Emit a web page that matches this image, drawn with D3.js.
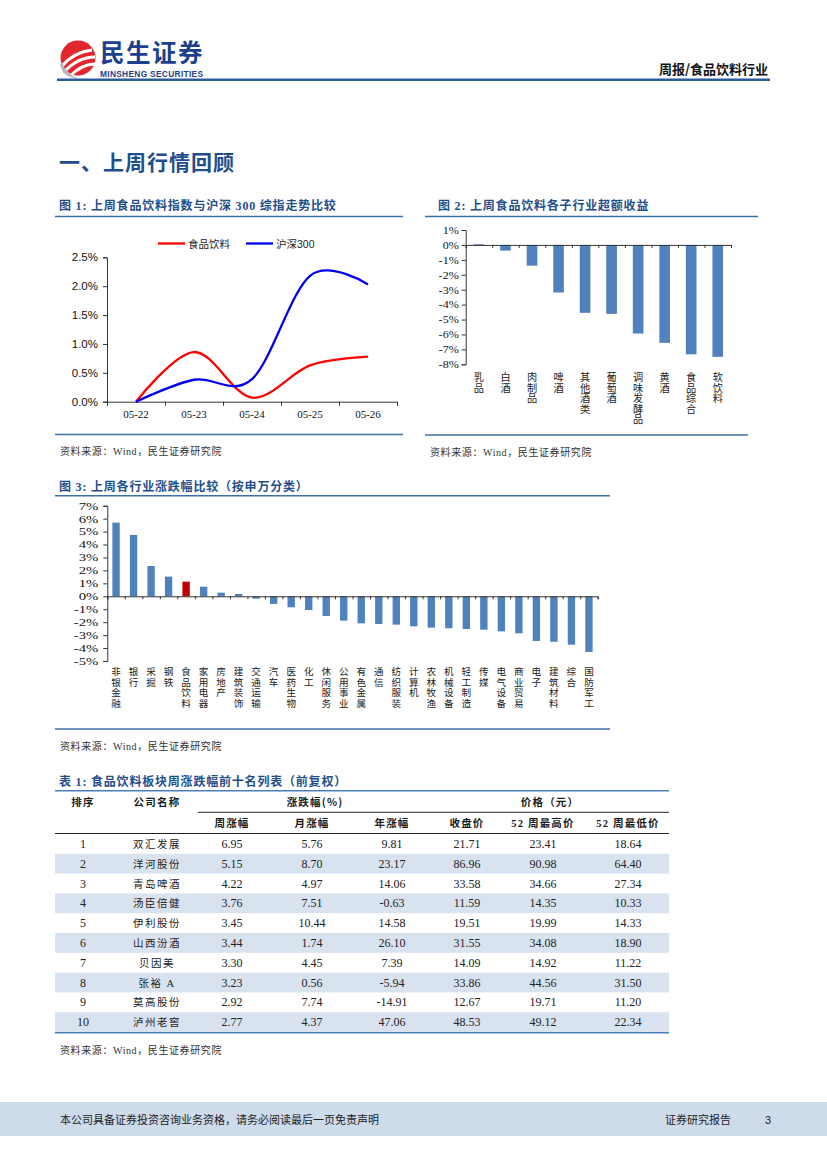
<!DOCTYPE html>
<html>
<head>
<meta charset="utf-8">
<script src="https://cdn.jsdelivr.net/npm/d3@7/dist/d3.min.js"></script>
<style>
body { margin: 0; background: #fff; }
svg { display: block; }
</style>
</head>
<body>
<svg id="page"></svg>
<script>
// ---- data ----
const fig1Dates = ['05-22', '05-23', '05-24', '05-25', '05-26'];
const fig1Food = [0, 0.86, 0.07, 0.63, 0.78];
const fig1Hs300 = [0, 0.38, 0.39, 2.18, 2.03];
const fig1Ticks = [0, 0.5, 1.0, 1.5, 2.0, 2.5];
const fig1Series = ['食品饮料', '沪深300'];

const fig2Cats = ['乳品', '白酒', '肉制品', '啤酒', '其他酒类', '葡萄酒', '调味发酵品', '黄酒', '食品综合', '软饮料'];
const fig2Vals = [0.05, -0.38, -1.39, -3.19, -4.55, -4.62, -5.94, -6.56, -7.33, -7.5];
const fig2Ticks = [1, 0, -1, -2, -3, -4, -5, -6, -7, -8];

const fig3Cats = ['非银金融', '银行', '采掘', '钢铁', '食品饮料', '家用电器', '房地产', '建筑装饰', '交通运输', '汽车',
  '医药生物', '化工', '休闲服务', '公用事业', '有色金属', '通信', '纺织服装', '计算机', '农林牧渔', '机械设备',
  '轻工制造', '传媒', '电气设备', '商业贸易', '电子', '建筑材料', '综合', '国防军工'];
const fig3Vals = [5.69, 4.74, 2.34, 1.52, 1.13, 0.74, 0.28, 0.18, -0.18, -0.59,
  -0.85, -1.06, -1.52, -1.88, -2.09, -2.14, -2.19, -2.32, -2.42, -2.47,
  -2.53, -2.58, -2.71, -2.86, -3.45, -3.51, -3.74, -4.30];
const fig3Ticks = [7, 6, 5, 4, 3, 2, 1, 0, -1, -2, -3, -4, -5];
const fig3Highlight = '食品饮料';

const tableRank = [1, 2, 3, 4, 5, 6, 7, 8, 9, 10];
const tableName = ['双汇发展', '洋河股份', '青岛啤酒', '汤臣倍健', '伊利股份', '山西汾酒', '贝因美', '张裕 A', '莫高股份', '泸州老窖'];
const tableWeek = ['6.95', '5.15', '4.22', '3.76', '3.45', '3.44', '3.30', '3.23', '2.92', '2.77'];
const tableMonth = ['5.76', '8.70', '4.97', '7.51', '10.44', '1.74', '4.45', '0.56', '7.74', '4.37'];
const tableYear = ['9.81', '23.17', '14.06', '-0.63', '14.58', '26.10', '7.39', '-5.94', '-14.91', '47.06'];
const tableClose = ['21.71', '86.96', '33.58', '11.59', '19.51', '31.55', '14.09', '33.86', '12.67', '48.53'];
const tableHigh = ['23.41', '90.98', '34.66', '14.35', '19.99', '34.08', '14.92', '44.56', '19.71', '49.12'];
const tableLow = ['18.64', '64.40', '27.34', '10.33', '14.33', '18.90', '11.22', '31.50', '11.20', '22.34'];

// ---- page ----
const width = 827;
const height = 1169;
const navy = '#1f4e8c';
const ruleBlue = '#3d6fa8';
const barBlue = '#4f81bd';
const cjk = "'Noto Sans CJK SC', 'Noto Sans', sans-serif";
const serif = "'Liberation Serif', 'Noto Sans CJK SC', serif";
const sans = "'Liberation Sans', 'Noto Sans CJK SC', sans-serif";

const svg = d3.select('#page').attr('width', width).attr('height', height);

const txt = (x, y, s, size, opts = {}) => {
    return svg.append('text')
        .attr('x', x)
        .attr('y', y)
        .attr('font-size', size)
        .attr('font-family', opts.family || cjk)
        .attr('font-weight', opts.weight || 'normal')
        .attr('fill', opts.fill || '#222')
        .attr('text-anchor', opts.anchor || 'start')
        .attr('letter-spacing', opts.spacing || 0)
        .text(s);
}

const rule = (x1, x2, y, color, w) => {
    svg.append('line')
        .attr('x1', x1).attr('x2', x2)
        .attr('y1', y).attr('y2', y)
        .attr('stroke', color)
        .attr('stroke-width', w);
}

const figTitle = (x, y, s) => txt(x, y, s, 12, { family: serif, weight: 'bold', fill: navy, spacing: 0.8 });

const drawHeader = () => {
    // logo mark
    const logo = svg.append('g');
    logo.append('circle').attr('cx', 78).attr('cy', 58).attr('r', 17.5).attr('fill', '#e1262d');
    logo.append('path')
        .attr('d', 'M62,66 Q74,52 92,50 M64,72 Q78,57 95,57 M70,76 Q82,64 95,64')
        .attr('fill', 'none').attr('stroke', '#fff').attr('stroke-width', 3);
    logo.append('path')
        .attr('d', 'M60,64 Q62,78 78,78 Q66,74 62,62 Z')
        .attr('fill', '#b9b9b9');

    txt(100, 61.5, '民生证券', 24.5, { weight: 'bold', fill: '#1d3f8f', spacing: 1.5 });
    txt(100, 76.5, 'MINSHENG SECURITIES', 8.4, { family: sans, weight: 'bold', fill: '#1d3f8f' })
        .attr('textLength', 103);
    txt(768, 74, '周报/食品饮料行业', 13, { weight: 'bold', fill: '#111', anchor: 'end' });
    rule(57, 770, 79.8, '#2a5b9c', 2.4);

    txt(59, 170, '一、上周行情回顾', 21, { weight: 'bold', fill: navy, spacing: 1 });
}

const styleAxis = (g, size, family) => {
    g.attr('font-size', size).attr('font-family', family);
    g.selectAll('path, line').attr('stroke', '#333');
    g.selectAll('text').attr('fill', '#111');
}

const drawFig1 = () => {
    figTitle(59, 210, '图 1: 上周食品饮料指数与沪深 300 综指走势比较');
    rule(55, 403, 216.5, ruleBlue, 1.5);

    const x = d3.scaleBand().domain(fig1Dates).range([107, 397]);
    const xEdge = d3.scaleLinear().domain([0, fig1Dates.length]).range([107, 397]);
    const y = d3.scaleLinear().domain([0, 2.5]).range([401.7, 257.3]);

    svg.append('g')
        .attr('transform', 'translate(107,0)')
        .call(d3.axisLeft(y).tickValues(fig1Ticks).tickSize(4).tickPadding(5)
            .tickFormat(d => d.toFixed(1) + '%'))
        .call(g => styleAxis(g, 11.5, sans));

    svg.append('g')
        .attr('transform', 'translate(0,401.7)')
        .call(d3.axisBottom(xEdge).tickValues(d3.range(fig1Dates.length + 1)).tickSize(4).tickFormat(''))
        .call(g => styleAxis(g, 11, serif));

    svg.append('g')
        .attr('transform', 'translate(0,401.7)')
        .call(d3.axisBottom(x).tickSize(0).tickPadding(9))
        .call(g => g.select('.domain').remove())
        .call(g => styleAxis(g, 11, serif));

    const line = d3.line()
        .x((d, i) => x(fig1Dates[i]) + x.bandwidth() / 2)
        .y(d => y(d))
        .curve(d3.curveCatmullRom.alpha(0));

    const series = [fig1Food, fig1Hs300];
    const colors = ['#ff0000', '#0000ee'];
    series.forEach((s, k) => {
        svg.append('path')
            .attr('d', line(s))
            .attr('fill', 'none')
            .attr('stroke', colors[k])
            .attr('stroke-width', 2.3);
    });

    // legend
    const legX = [158, 246];
    fig1Series.forEach((name, k) => {
        svg.append('line')
            .attr('x1', legX[k]).attr('x2', legX[k] + 27)
            .attr('y1', 243.5).attr('y2', 243.5)
            .attr('stroke', colors[k]).attr('stroke-width', 2.3);
        txt(legX[k] + 30, 247.5, name, 10.5, { family: sans, fill: '#222' });
    });

    rule(55, 403, 434.5, ruleBlue, 1.5);
    txt(60, 455, '资料来源：Wind，民生证券研究院', 10, { family: serif, fill: '#333', spacing: 0.6 });
}

// category names written top to bottom, one column per bar
const verticalLabels = (cats, x, top, size, pitch) => {
    svg.append('g')
        .attr('font-size', size)
        .attr('font-family', cjk)
        .attr('fill', '#222')
        .selectAll('text')
        .data(cats)
        .enter()
        .append('text')
        .style('writing-mode', 'vertical-rl')
        .attr('letter-spacing', pitch - size)
        .attr('text-anchor', 'start')
        .attr('x', c => x(c) + x.bandwidth() / 2)
        .attr('y', top)
        .text(c => c.replace(' ', ''));
}

const drawBars = (cfg) => {
    const x = d3.scaleBand().domain(cfg.cats).range(cfg.xRange).paddingInner(cfg.pad).paddingOuter(cfg.pad / 2);
    const xEdge = d3.scaleLinear().domain([0, cfg.cats.length]).range(cfg.xRange);
    const y = d3.scaleLinear().domain(cfg.yDomain).range(cfg.yRange);

    svg.append('g')
        .selectAll('rect')
        .data(cfg.vals)
        .enter()
        .append('rect')
        .attr('x', (v, i) => x(cfg.cats[i]))
        .attr('width', x.bandwidth())
        .attr('y', v => y(Math.max(0, v)))
        .attr('height', v => Math.abs(y(v) - y(0)))
        .attr('fill', (v, i) => cfg.cats[i] === cfg.highlight ? '#c00000' : barBlue);

    svg.append('g')
        .attr('transform', 'translate(' + cfg.xRange[0] + ',0)')
        .call(d3.axisLeft(y).tickValues(cfg.ticks).tickSize(4).tickPadding(cfg.tickPad)
            .tickFormat(d => d + '%'))
        .call(g => styleAxis(g, cfg.ySize, serif))
        .call(g => g.selectAll('text').attr('transform', 'scale(' + cfg.stretch + ',1)')
            .attr('x', -(4 + cfg.tickPad) / cfg.stretch));

    svg.append('g')
        .attr('transform', 'translate(0,' + y(0) + ')')
        .call(d3.axisBottom(xEdge).tickValues(d3.range(cfg.cats.length + 1)).tickSize(3).tickFormat(''))
        .call(g => styleAxis(g, 10, serif));

    verticalLabels(cfg.cats, x, cfg.labelTop, cfg.labelSize, cfg.pitch);
}

const drawFig2 = () => {
    figTitle(438, 210, '图 2: 上周食品饮料各子行业超额收益');
    rule(425, 758, 216.5, ruleBlue, 1.5);
    drawBars({
        cats: fig2Cats, vals: fig2Vals, ticks: fig2Ticks,
        xRange: [465.7, 731], yDomain: [-8, 1], yRange: [364.3, 230],
        pad: 0.6, ySize: 10.5, tickPad: 3, stretch: 1.15,
        labelTop: 372, labelSize: 10.2, pitch: 10.6
    });
    rule(425, 748, 435, ruleBlue, 1.5);
    txt(430, 456, '资料来源：Wind，民生证券研究院', 10, { family: serif, fill: '#333', spacing: 0.6 });
}

const drawFig3 = () => {
    figTitle(59, 491, '图 3: 上周各行业涨跌幅比较（按申万分类）');
    rule(55, 610, 495.7, ruleBlue, 1.5);
    drawBars({
        cats: fig3Cats, vals: fig3Vals, ticks: fig3Ticks, highlight: fig3Highlight,
        xRange: [107.3, 597.7], yDomain: [-5, 7], yRange: [661, 505.7],
        pad: 0.58, ySize: 10.5, tickPad: 5, stretch: 1.4,
        labelTop: 667, labelSize: 9.6, pitch: 10.4
    });
    rule(55, 610, 729, ruleBlue, 1.5);
    txt(60, 750, '资料来源：Wind，民生证券研究院', 10, { family: serif, fill: '#333', spacing: 0.6 });
}

const drawTable = () => {
    figTitle(59, 786, '表 1: 食品饮料板块周涨跌幅前十名列表（前复权）');

    const cols = [tableRank, tableName, tableWeek, tableMonth, tableYear, tableClose, tableHigh, tableLow];
    const colX = [83, 157, 232, 312, 392, 467, 543, 628];
    const rowTop = 834;
    const rowH = 19.8;

    // row shading
    svg.append('g')
        .selectAll('rect')
        .data(tableRank)
        .enter()
        .append('rect')
        .attr('x', 55)
        .attr('width', 614)
        .attr('y', (d, i) => rowTop + i * rowH)
        .attr('height', rowH)
        .attr('fill', (d, i) => i % 2 === 1 ? '#d9e3f0' : 'none');

    rule(55, 669, 790.7, '#4a7ebb', 1.6);
    rule(198, 669, 812.3, '#222', 1);
    rule(55, 669, 833.5, '#222', 1.2);
    rule(55, 669, 1032.7, '#4a7ebb', 1.6);

    const head = { weight: 'bold', fill: '#1a1a1a', anchor: 'middle', spacing: 1.2 };
    txt(colX[0], 805.5, '排序', 10.5, head);
    txt(colX[1], 805.5, '公司名称', 10.5, head);
    txt(315, 805.5, '涨跌幅(%)', 10.5, head);
    txt(550, 805.5, '价格（元）', 10.5, head);
    const sub = ['周涨幅', '月涨幅', '年涨幅', '收盘价', '52 周最高价', '52 周最低价'];
    sub.forEach((s, i) => txt(colX[i + 2], 827, s, 10.5, Object.assign({}, head, { family: serif })));

    cols.forEach((col, c) => {
        col.forEach((v, r) => {
            const isName = c === 1;
            txt(colX[c], rowTop + r * rowH + 14, v, isName ? 10.5 : 12, {
                family: serif,
                fill: '#222',
                anchor: 'middle',
                spacing: isName ? 1.5 : 0
            });
        });
    });

    txt(60, 1054, '资料来源：Wind，民生证券研究院', 10, { family: serif, fill: '#333', spacing: 0.6 });
}

const drawFooter = () => {
    svg.append('rect')
        .attr('x', 0).attr('y', 1102)
        .attr('width', width).attr('height', 34)
        .attr('fill', '#cedbea');
    txt(60, 1123.5, '本公司具备证券投资咨询业务资格，请务必阅读最后一页免责声明', 11, { fill: '#222' });
    txt(665, 1123.5, '证券研究报告', 11, { fill: '#222' });
    txt(765, 1123.5, '3', 11, { family: sans, fill: '#222' });
}

drawHeader();
drawFig1();
drawFig2();
drawFig3();
drawTable();
drawFooter();
</script>
</body>
</html>
